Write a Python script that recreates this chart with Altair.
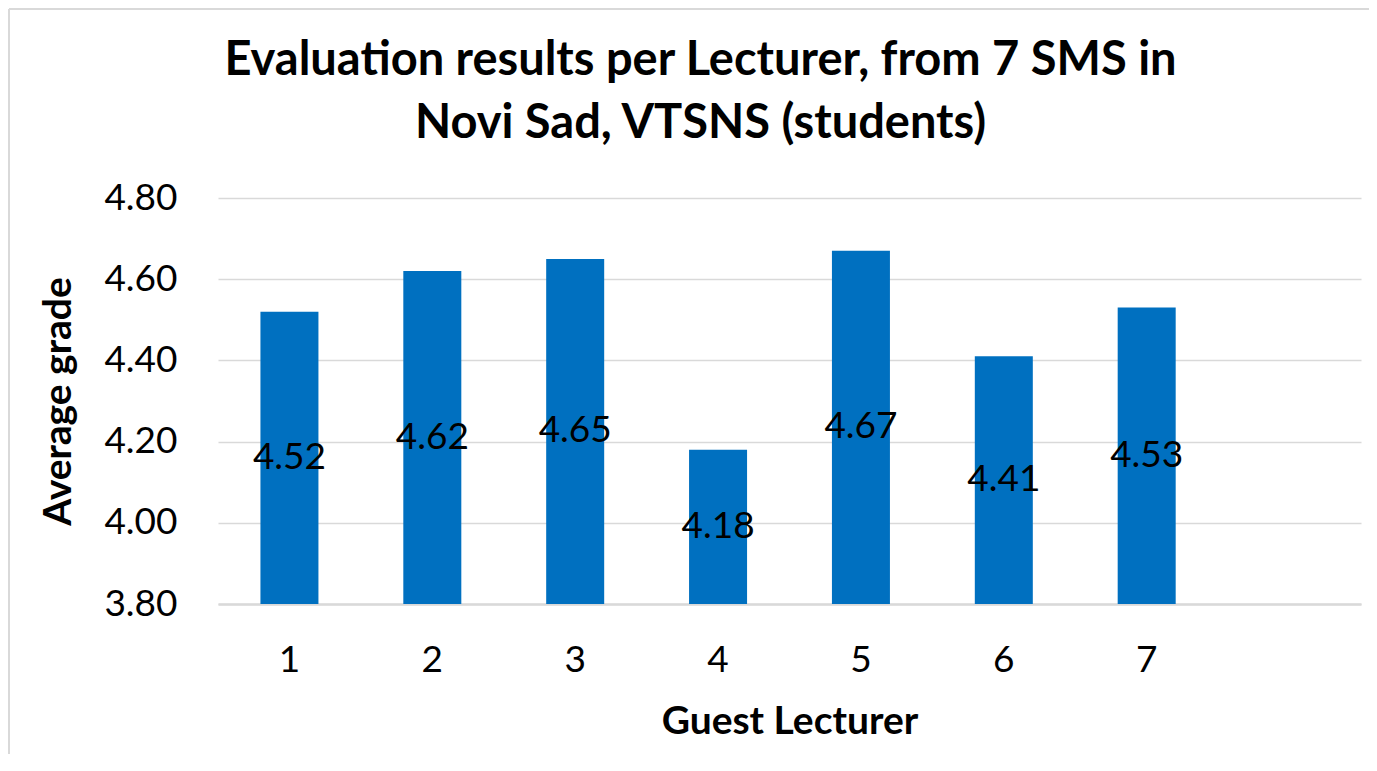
import altair as alt
import pandas as pd

lecturers = ["1", "2", "3", "4", "5", "6", "7"]
grades = [4.52, 4.62, 4.65, 4.18, 4.67, 4.41, 4.53]
x_domain = ["1", "2", "3", "4", "5", "6", "7", ""]
y_ticks = [3.8, 4.0, 4.2, 4.4, 4.6, 4.8]
y_min, y_max = 3.8, 4.8
title_lines = ["Evaluation results per Lecturer, from 7 SMS in", "Novi Sad, VTSNS (students)"]

df = pd.DataFrame({"lecturer": lecturers, "grade": grades})

FONT = "Lato"
BLUE = "#0070C0"
GRID = "#D9D9D9"

xscale = alt.Scale(domain=x_domain, paddingInner=0.594, paddingOuter=0.297)
yscale = alt.Scale(domain=[y_min, y_max], zero=False, nice=False)

base = alt.Chart(df)

bars = base.mark_bar(color=BLUE).encode(
    x=alt.X("lecturer:N", scale=xscale, sort=x_domain,
            axis=alt.Axis(title="Guest Lecturer", labelAngle=0, ticks=False, grid=False,
                          domain=True, domainColor=GRID, domainWidth=2.5,
                          labelFont=FONT, labelFontSize=37, labelColor="black",
                          labelPadding=38,
                          titleFont=FONT, titleFontSize=39, titleFontWeight="bold",
                          titleColor="black", titleY=129, titleBaseline="alphabetic")),
    y=alt.Y("grade:Q", scale=yscale,
            axis=alt.Axis(title="Average grade", values=y_ticks, format=".2f",
                          ticks=False, domain=False, grid=True, gridColor=GRID, gridWidth=1.5,
                          labelFont=FONT, labelFontSize=37, labelColor="black",
                          labelPadding=41,
                          titleFont=FONT, titleFontSize=39, titleFontWeight="bold",
                          titleColor="black", titleX=-148, titleY=203,
                          titleBaseline="alphabetic", titleAngle=-90)),
    y2=alt.datum(y_min),
)

labels = base.transform_calculate(
    mid=f"(datum.grade + {y_min}) / 2",
    txt="format(datum.grade, '.2f')",
).mark_text(font=FONT, fontSize=37, color="black", baseline="middle", align="center").encode(
    x=alt.X("lecturer:N", scale=xscale, sort=x_domain),
    y=alt.Y("mid:Q", scale=yscale),
    text="txt:N",
)

frame_top = alt.Chart(df).mark_rule(color=GRID, strokeWidth=2).encode(
    x=alt.value(-209), x2=alt.value(1200), y=alt.value(-189)
)
frame_left = alt.Chart(df).mark_rule(color=GRID, strokeWidth=2).encode(
    x=alt.value(-209), y=alt.value(-189), y2=alt.value(600)
)

chart = alt.layer(frame_top, frame_left, bars, labels).properties(
    width=1143,
    height=406,
    autosize=alt.AutoSizeParams(type="none"),
    padding={"left": 210, "top": 190, "right": 8, "bottom": 150},
    title=alt.TitleParams(text=title_lines, font=FONT, fontSize=47, fontWeight="bold",
                          color="black", anchor="middle", dx=-89, lineHeight=63, offset=-140),
).configure(background="white", view=alt.ViewConfig(stroke=None))

chart.save("out.html", embed_options={"renderer": "svg", "actions": False})
